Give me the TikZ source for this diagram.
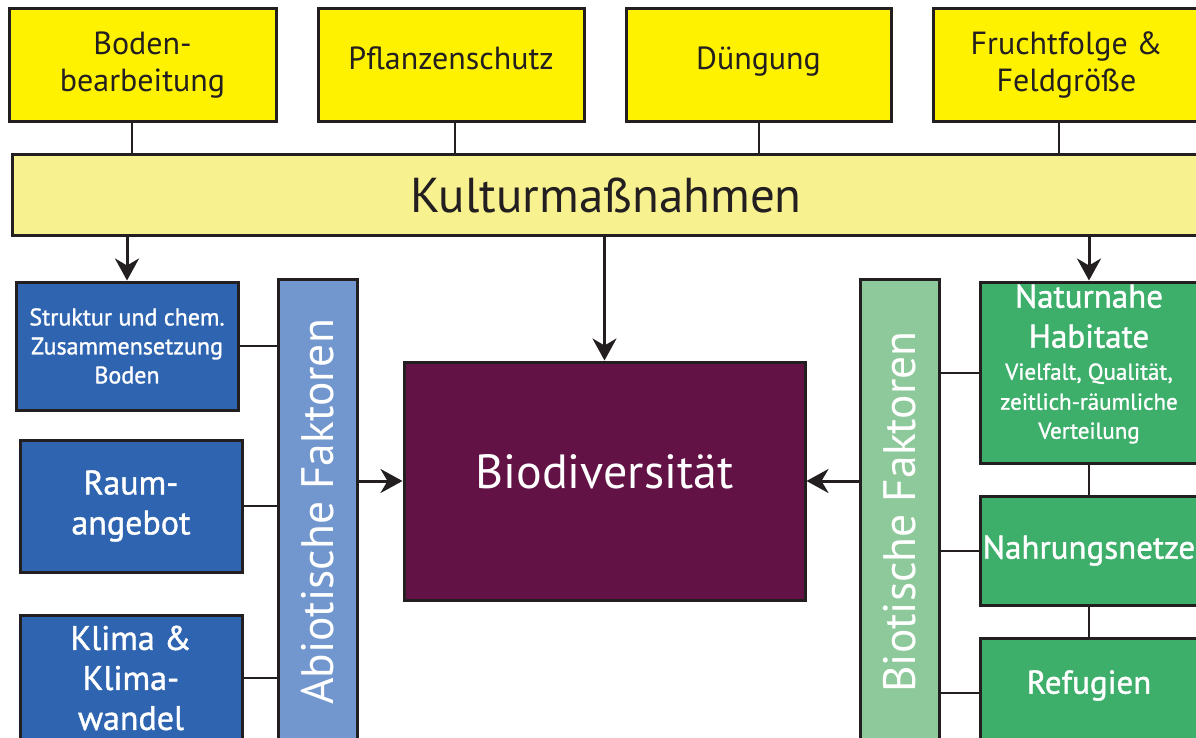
\documentclass[tikz,border=0pt]{standalone}
\usepackage{fontspec}
\setmainfont{PT Sans}
\newfontfamily\halbfett[FakeBold=1.2]{PT Sans}
\usetikzlibrary{arrows.meta,positioning}
\definecolor{gelb}{HTML}{FFF200}
\definecolor{hellgelb}{HTML}{F8F18F}
\definecolor{blau}{HTML}{2E64B0}
\definecolor{hellblau}{HTML}{7197CE}
\definecolor{lila}{HTML}{621244}
\definecolor{gruen}{HTML}{3DAF6B}
\definecolor{hellgruen}{HTML}{8DC99A}
\definecolor{rand}{HTML}{231F20}
\tikzset{
  massn/.style={draw=rand, line width=3pt, fill=gelb, text=rand, align=center, minimum width=267pt, minimum height=113pt, inner sep=0pt, font=\fontsize{32}{37}\selectfont},
  kultbar/.style={draw=rand, line width=3pt, fill=hellgelb, text=rand, minimum width=1188pt, minimum height=80pt, inner sep=0pt, font=\fontsize{49}{55}\selectfont},
  abox/.style={draw=rand, line width=3pt, fill=blau, text=white, align=center, minimum width=222pt, inner sep=0pt, font=\halbfett\fontsize{34}{40}\selectfont},
  bbox/.style={draw=rand, line width=3pt, fill=gruen, text=white, align=center, minimum width=218pt, inner sep=0pt, font=\halbfett\fontsize{33}{40}\selectfont},
  faktor/.style={draw=rand, line width=3pt, text=white, minimum width=79pt, minimum height=466pt, inner sep=0pt, font=\fontsize{45.5}{50}\selectfont},
  zentrum/.style={draw=rand, line width=3pt, fill=lila, text=white, minimum width=401pt, minimum height=238pt, inner sep=0pt, font=\fontsize{48}{54}\selectfont},
  link/.style={draw=rand, line width=2pt},
  arrow/.style={-{Stealth[length=22pt,width=24pt,inset=7pt]}, draw=rand, line width=3pt},
}
\newcommand\klein{\fontsize{23}{29}\selectfont}

\begin{document}
\begin{tikzpicture}[x=1pt, y=-1pt]
  \useasboundingbox (0,0) rectangle (1196,738);
  \clip (0,0) rectangle (1196,738);

  % Massnahmen
  \node[massn] (boden) at (142.5,65.5) {Boden-\\bearbeitung};
  \node[massn, right=39pt of boden, minimum width=266pt, text depth=14pt] (pflanz) {Pflanzenschutz};
  \node[massn, right=39pt of pflanz, minimum width=265pt, text depth=14pt] (dueng) {Düngung};
  \node[massn, right=39pt of dueng] (frucht) {Fruchtfolge \&\\Feldgröße};

  \node[kultbar] (kultur) at (606,195) {Kulturmaßnahmen};

  \draw[link] ([xshift=-11pt]boden.south) -- ([xshift=-11pt]boden.south |- kultur.north);
  \draw[link] ([xshift=4pt]pflanz.south) -- ([xshift=4pt]pflanz.south |- kultur.north);
  \draw[link] (dueng.south) -- (dueng.south |- kultur.north);
  \draw[link] ([xshift=-8pt]frucht.south) -- ([xshift=-8pt]frucht.south |- kultur.north);

  % abiotisch
  \node[abox, minimum height=128pt, font=\halbfett\fontsize{24}{29}\selectfont] (struktur) at (127,346) {Struktur und chem.\\Zusammensetzung\\Boden};
  \node[abox, minimum height=132pt, below=27pt of struktur, xshift=4pt] (raum) {Raum-\\angebot};
  \node[abox, minimum height=126pt, below=40pt of raum] (klima) {Klima \&\\Klima-\\wandel};
  \node[faktor, fill=hellblau] (abio) at (317.5,512) {\rotatebox{90}{Abiotische Faktoren}};

  \draw[link] (struktur.east) -- (struktur.east -| abio.west);
  \draw[link] (raum.east) -- (raum.east -| abio.west);
  \draw[link] (klima.east) -- (klima.east -| abio.west);

  % Biodiversitaet
  \node[zentrum, text depth=18pt] (bio) at (604.5,481) {Biodiversität};

  % biotisch
  \node[faktor, fill=hellgruen] (biot) at (900,512) {\rotatebox{90}{Biotische Faktoren}};
  \node[bbox, minimum height=181pt, text depth=22pt] (natur) at (1089,372.5)
    {Naturnahe\\Habitate\\[-8pt]\klein Vielfalt, Qualität,\\[-10pt]\klein zeitlich-räumliche\\[-11pt]\klein Verteilung};
  \node[bbox, minimum height=109pt, below=30pt of natur] (nahrung) {Nahrungsnetze};
  \node[bbox, minimum height=110pt, below=30pt of nahrung, text depth=22pt] (refug) {Refugien};

  \draw[link] (natur.south) -- (nahrung.north);
  \draw[link] (nahrung.south) -- (refug.north);
  \draw[link] (biot.east |- natur.west) -- (natur.west);
  \draw[link] (biot.east |- nahrung.west) -- (nahrung.west);
  \draw[link] (biot.east |- refug.west) -- (refug.west);

  % Pfeile
  \draw[arrow] (kultur.south -| struktur.north) -- (struktur.north);
  \draw[arrow] (kultur.south -| bio.north) -- (bio.north);
  \draw[arrow] (kultur.south -| natur.north) -- (natur.north);
  \draw[arrow] (abio.east |- bio.west) -- (bio.west);
  \draw[arrow] (biot.west |- bio.east) -- (bio.east);
\end{tikzpicture}
\end{document}
